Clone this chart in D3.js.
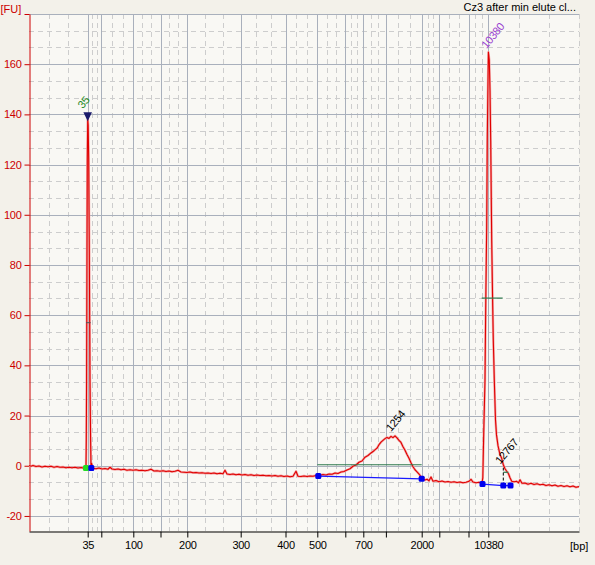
<!DOCTYPE html>
<html lang="en">
<head>
<meta charset="UTF-8">
<title>Cz3 after min elute cl...</title>
<script src="https://d3js.org/d3.v7.min.js"></script>
<style>
  body { margin: 0; background: #f3f1ea; }
  svg { display: block; font-family: 'Liberation Sans', Arial, sans-serif; }
  .xaxis text { font-size: 11px; letter-spacing: -0.3px; fill: #000; }
  .yaxis text { font-size: 11px; letter-spacing: -0.3px; fill: #cc0000; }
</style>
</head>
<body>
<svg id="chart" width="595" height="565"></svg>
<script>
// ladder sizes (bp) and their migration times (s)
const ladderBp = [35, 50, 100, 150, 200, 300, 400, 500, 600, 700, 1000, 2000, 3000, 7000, 10380];
const ladderTime = [41.74, 44.46, 50.86, 56.3, 61.66, 72.34, 81.3, 87.66, 93.26, 96.86, 101.38, 108.54, 112.06, 117.9, 121.86];
const ladderLabels = ['35', '', '100', '', '200', '300', '400', '500', '', '700', '', '2000', '', '', '10380'];
const fuTicks = [-20, 0, 20, 40, 60, 80, 100, 120, 140, 160, 180];
const timeRange = [30, 140];
const fuRange = [-26, 180];

// electropherogram: [time s, FU]
const trace = [
  [30.0,0.2],[30.4,-0.2],[30.8,0.1],[31.4,-0.3],[32.0,-0.1],[32.6,-0.5],[33.2,-0.2],[33.8,-0.4],[34.4,-0.2],[35.0,-0.6],
  [35.6,-0.3],[36.2,-0.6],[36.8,-0.5],[37.4,-0.8],[38.0,-0.6],[38.6,-0.8],[39.2,-0.6],[39.8,-0.9],[40.4,-0.7],[41.0,-1.0],[41.4,-0.9],
  [41.46,10.3],[41.52,34.2],[41.6,86.0],[41.66,121.8],[41.74,138.1],[41.84,135.7],[41.94,121.8],[42.06,86.0],[42.2,34.2],[42.32,10.3],[42.4,0.0],[42.5,1.0],
  [42.8,-1.0],[43.4,-1.2],[44.0,-0.9],[44.6,-1.3],[45.2,-1.1],[45.8,-1.4],[46.2,-0.6],[46.6,-1.3],[47.2,-1.5],[47.8,-1.3],[48.4,-1.6],
  [49.0,-1.4],[49.6,-1.8],[50.2,-1.6],[50.8,-1.8],[51.4,-1.6],[52.0,-1.9],[52.6,-1.8],[53.2,-2.0],[53.8,-1.8],[54.4,-1.4],[55.0,-2.1],
  [55.6,-2.0],[56.2,-2.2],[56.8,-2.0],[57.4,-2.3],[58.0,-2.1],[58.6,-2.4],[59.2,-2.2],[59.8,-1.8],[60.4,-2.5],[61.0,-2.6],[61.6,-2.7],
  [62.2,-2.5],[62.8,-2.8],[63.4,-2.7],[64.0,-2.9],[64.6,-2.8],[65.2,-3.0],[65.8,-2.9],[66.4,-3.1],[67.0,-2.9],[67.6,-3.2],[68.2,-3.0],
  [68.8,-3.2],[69.2,-1.8],[69.6,-3.3],[70.2,-3.5],[70.8,-3.3],[71.4,-3.6],[72.0,-3.4],[72.6,-3.7],[73.2,-3.5],[73.8,-3.8],[74.4,-3.6],
  [75.0,-3.9],[75.6,-3.7],[76.2,-3.9],[76.8,-3.8],[77.4,-4.0],[78.0,-3.9],[78.6,-4.1],[79.2,-3.9],[79.8,-4.2],[80.4,-4.0],[81.0,-4.3],
  [81.6,-4.1],[82.2,-4.4],[82.8,-4.2],[83.4,-2.2],[83.8,-4.2],[84.4,-4.3],[85.0,-4.1],[85.6,-4.3],[86.2,-4.1],[86.8,-4.2],[87.4,-3.9],[87.8,-4.1],
  [88.2,-3.8],[88.8,-3.5],[89.4,-3.7],[90.0,-3.3],[90.6,-3.4],[91.2,-2.9],[91.8,-3.1],[92.4,-2.5],[93.0,-2.3],[93.6,-1.7],[94.2,-1.2],
  [94.8,-0.2],[95.4,0.3],[96.0,1.4],[96.6,1.9],[97.2,3.4],[97.8,4.1],[98.4,5.1],[99.0,6.0],[99.6,7.0],[100.0,8.4],[100.4,9.4],
  [100.8,10.1],[101.2,10.8],[101.6,11.3],[102.0,10.9],[102.4,11.7],[102.8,11.2],[103.2,11.9],[103.6,11.1],[104.0,10.1],[104.4,9.3],
  [104.8,7.6],[105.2,6.2],[105.6,4.5],[106.0,3.0],[106.4,1.2],[106.8,-0.4],[107.2,-1.6],[107.6,-2.4],[108.0,-3.3],[108.4,-4.4],
  [108.8,-5.2],[109.2,-5.7],[109.6,-5.4],[110.0,-6.0],[110.4,-4.5],[110.8,-6.2],[111.4,-5.9],[112.0,-6.4],[112.6,-6.1],[113.2,-6.5],
  [113.8,-6.3],[114.4,-6.6],[115.0,-6.4],[115.6,-6.7],[116.2,-6.5],[116.8,-6.8],[117.4,-6.6],[118.0,-6.2],[118.4,-5.4],[118.8,-6.5],
  [119.4,-6.8],[120.0,-6.6],[120.6,-6.9],[120.76,-4.8],[120.96,14.3],[121.2,34.2],[121.36,66.1],[121.54,95.5],[121.66,130.9],[121.8,153.6],
  [121.88,164.8],[122.06,161.6],[122.2,149.6],[122.34,129.7],[122.54,89.9],[122.74,63.7],[122.86,50.1],[123.06,34.2],[123.3,18.3],
  [123.5,12.3],[123.8,8.0],[124.2,4.4],[124.5,3.2],[124.86,0.4],[125.2,-1.2],[125.54,-2.2],[125.9,-3.2],[126.2,-4.8],[126.54,-6.2],
  [127.0,-6.4],[127.54,-6.2],[127.9,-6.8],[128.2,-5.6],[128.6,-7.0],[129.2,-6.9],[129.8,-7.4],[130.4,-7.0],[131.0,-7.5],[131.6,-7.2],
  [132.2,-7.6],[132.8,-7.4],[133.4,-7.9],[134.0,-7.6],[134.6,-8.0],[135.2,-7.7],[135.8,-8.2],[136.4,-7.9],[137.0,-8.3],[137.6,-8.0],
  [138.2,-8.4],[138.8,-8.1],[139.4,-8.6],[140.0,-8.3]
];

// called peaks
const peakLabels = ['35', '1254', '10380', '12767'];
const peakTime = [41.74, 102.6, 121.88, 124.86];
const peakFU = [138.1, 11.8, 164.8, -0.8];

// integration baselines [time, FU]
const peakBaselines = [
  [[41.4, -0.9], [42.46, -0.9]],
  [[87.86, -4.1], [108.54, -5.2]],
  [[120.7, -7.3], [124.86, -7.9], [126.3, -7.9]]
];
// level lines [from time, to time, FU]
const levelLines = [[87.66, 108.54, 0.4], [120.54, 124.74, 66.8], [124.86, 125.86, -2.6]];
const markTick = [41.4, 42.34, 57];

const title = 'Cz3 after min elute cl...';

const W = 595, H = 565;
const margin = { left: 29, right: 16, top: 14, bottom: 34 };

const svg = d3.select('#chart');

const x = d3.scaleLinear().domain(timeRange).range([margin.left, W - margin.right]);
const y = d3.scaleLinear().domain(fuRange).range([H - margin.bottom, margin.top]);

const [x0, x1] = x.range();
const [y0, y1] = y.range();

svg.append('rect')
  .attr('x', x0).attr('y', y1)
  .attr('width', x1 - x0).attr('height', y0 - y1)
  .attr('fill', '#f9f8f4');

// minor grid: thirds between major lines
const xEdges = [timeRange[0], ...ladderTime, timeRange[1]];
const xMinor = [];
for (let i = 0; i < xEdges.length - 1; i++) {
  const a = xEdges[i], b = xEdges[i + 1];
  xMinor.push(a + (b - a) / 3, a + 2 * (b - a) / 3);
}
xMinor.push(timeRange[1]);
const yMinor = [];
fuTicks.forEach(t => {
  [t - 20 / 3, t - 40 / 3].forEach(v => { if (v > fuRange[0]) yMinor.push(v); });
});

const grid = svg.append('g');
grid.selectAll('.vminor').data(xMinor).enter().append('line')
  .attr('x1', d => Math.round(x(d)) + 0.5).attr('x2', d => Math.round(x(d)) + 0.5)
  .attr('y1', y1).attr('y2', y0)
  .attr('stroke', '#cdcdcd').attr('stroke-dasharray', '5,4');
grid.selectAll('.hminor').data(yMinor).enter().append('line')
  .attr('x1', x0).attr('x2', x1)
  .attr('y1', d => Math.round(y(d)) + 0.5).attr('y2', d => Math.round(y(d)) + 0.5)
  .attr('stroke', '#cdcdcd').attr('stroke-dasharray', '5,4');
grid.selectAll('.vmajor').data(ladderTime).enter().append('line')
  .attr('x1', d => Math.round(x(d)) + 0.5).attr('x2', d => Math.round(x(d)) + 0.5)
  .attr('y1', y1).attr('y2', y0)
  .attr('stroke', '#a9b0bc');
grid.selectAll('.hmajor').data(fuTicks).enter().append('line')
  .attr('x1', x0).attr('x2', x1)
  .attr('y1', d => Math.round(y(d)) + 0.5).attr('y2', d => Math.round(y(d)) + 0.5)
  .attr('stroke', '#a9b0bc');

// axes
const xAxis = svg.append('g')
  .attr('class', 'xaxis')
  .attr('transform', `translate(0,${y0 + 0.5})`)
  .call(d3.axisBottom(x).tickValues(ladderTime)
    .tickFormat((d, i) => ladderLabels[i]).tickSize(6).tickSizeOuter(0).tickPadding(4));
xAxis.select('.domain').attr('stroke', '#000');
xAxis.selectAll('.tick line').attr('stroke', '#000');
xAxis.selectAll('text').attr('font-family', null).attr('font-size', null);

const yAxis = svg.append('g')
  .attr('class', 'yaxis')
  .attr('transform', `translate(${x0 + 0.5},0)`)
  .call(d3.axisLeft(y).tickValues(fuTicks)
    .tickFormat(d => d === 180 ? '' : d).tickSize(5).tickSizeOuter(0).tickPadding(3));
yAxis.select('.domain').attr('stroke', '#cc0000');
yAxis.selectAll('.tick line').attr('stroke', '#cc0000');
yAxis.selectAll('text').attr('font-family', null).attr('font-size', null);

// trace
svg.append('clipPath').attr('id', 'plotclip').append('rect')
  .attr('x', x0).attr('y', y1).attr('width', x1 - x0).attr('height', y0 - y1);
const line = d3.line().x(d => x(d[0])).y(d => y(d[1]));
const plot = svg.append('g').attr('clip-path', 'url(#plotclip)');

plot.append('path').datum(trace)
  .attr('d', line).attr('fill', 'none')
  .attr('stroke', '#f2a8a8').attr('stroke-width', 2.4).attr('stroke-linejoin', 'round');
plot.append('path').datum(trace)
  .attr('d', line).attr('fill', 'none')
  .attr('stroke', '#e00000').attr('stroke-width', 1.1).attr('stroke-linejoin', 'round');

// level lines
plot.selectAll('.level').data(levelLines).enter().append('line')
  .attr('x1', d => x(d[0])).attr('x2', d => x(d[1]))
  .attr('y1', d => y(d[2])).attr('y2', d => y(d[2]))
  .attr('stroke', '#2e7a4e').attr('stroke-width', 1.2);
plot.append('line')
  .attr('x1', x(markTick[0])).attr('x2', x(markTick[1]))
  .attr('y1', y(markTick[2])).attr('y2', y(markTick[2]))
  .attr('stroke', '#555').attr('stroke-width', 1);

// dashed marker for 12767
const last = peakBaselines[2];
plot.append('line')
  .attr('x1', x(peakTime[3])).attr('x2', x(peakTime[3]))
  .attr('y1', y(last[1][1])).attr('y2', y(peakFU[3]))
  .attr('stroke', '#000').attr('stroke-dasharray', '3,2');

// baselines and their end points
peakBaselines.forEach((pts, i) => {
  plot.append('path').datum(pts)
    .attr('d', line).attr('fill', 'none')
    .attr('stroke', '#1a1aff').attr('stroke-width', 1.2);
  plot.selectAll(null).data(pts).enter().append('rect')
    .attr('x', d => x(d[0]) - 3).attr('y', d => y(d[1]) - 3)
    .attr('width', 6).attr('height', 6).attr('rx', 1.5)
    .attr('fill', (d, j) => (i === 0 && j === 0) ? '#22dd22' : '#0000ee');
});

// 35 marker triangle
const px35 = x(peakTime[0]), py35 = y(peakFU[0]);
svg.append('path')
  .attr('d', `M${px35 - 4.3},${py35 - 7} L${px35 + 4.3},${py35 - 7} L${px35},${py35 + 2} Z`)
  .attr('fill', '#1b1b6b');

// peak labels
const labelColor = { '35': '#1f8a1f', '10380': '#9a3fd0' };
const labelOffset = [[-5, -10], [-1, -4], [-2, -3], [-3, -3]];
svg.selectAll('.plabel').data(peakLabels).enter().append('text')
  .attr('transform', (d, i) =>
    `translate(${x(peakTime[i]) + labelOffset[i][0]},${y(peakFU[i]) + labelOffset[i][1]}) rotate(-50)`)
  .attr('font-size', 11).attr('letter-spacing', -0.3)
  .attr('fill', d => labelColor[d] || '#000')
  .text(d => d);

// texts
svg.append('text').attr('x', 0.5).attr('y', 13)
  .attr('font-size', 11).attr('fill', '#cc0000').text('[FU]');
svg.append('text').attr('x', 576).attr('y', 11)
  .attr('text-anchor', 'end').attr('font-size', 11).attr('fill', '#000').text(title);
svg.append('text').attr('x', 570).attr('y', 550)
  .attr('font-size', 11).attr('fill', '#000').text('[bp]');
</script>
</body>
</html>
